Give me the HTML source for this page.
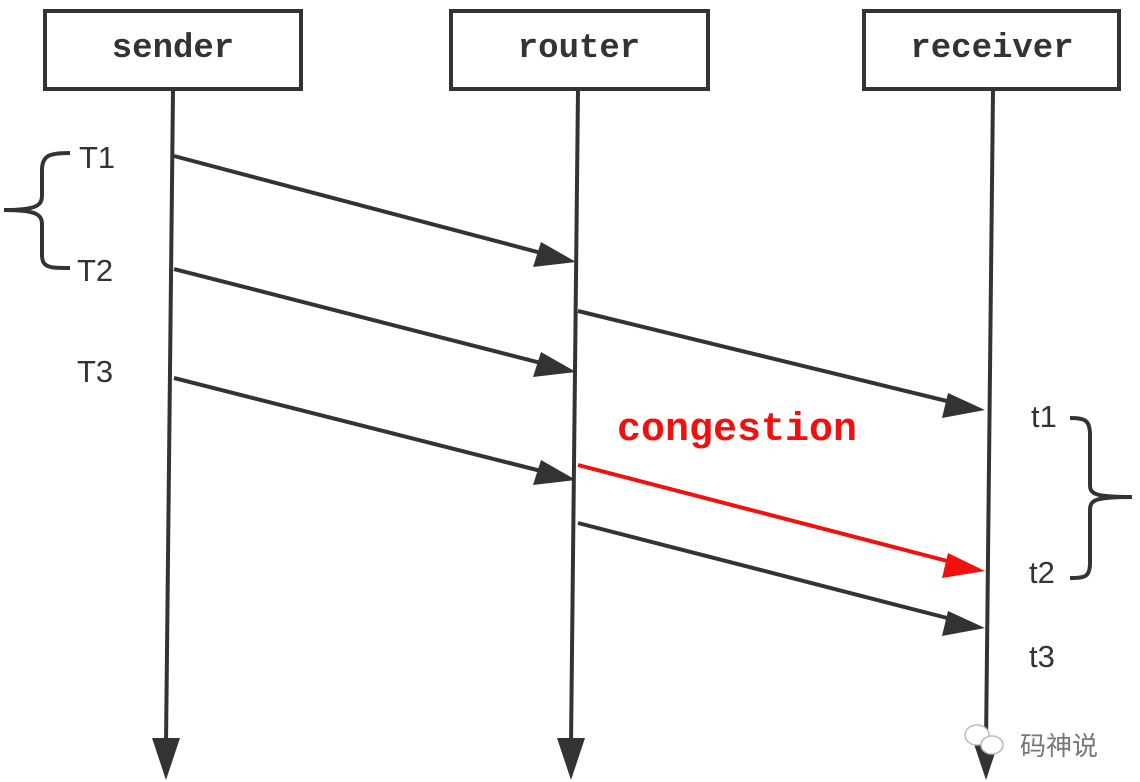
<!DOCTYPE html>
<html><head><style>
body{margin:0;background:#fff;}
svg{display:block}
</style></head><body>
<svg width="1140" height="782" viewBox="0 0 1140 782" xmlns="http://www.w3.org/2000/svg">
<g fill="#fff" stroke="#333" stroke-width="4">
<rect x="45" y="11" width="256" height="78"/>
<rect x="451" y="11" width="257" height="78"/>
<rect x="864" y="11" width="255" height="78"/>
</g>
<g font-family="Liberation Mono, monospace" font-weight="bold" font-size="34" fill="#333" text-anchor="middle">
<text x="173" y="57">sender</text>
<text x="579" y="57">router</text>
<text x="992" y="57">receiver</text>
</g>
<g stroke="#333" stroke-width="4" fill="none">
<line x1="173" y1="90" x2="166" y2="745"/>
<line x1="578" y1="90" x2="571" y2="745"/>
<line x1="993" y1="90" x2="986" y2="745"/>
<line x1="174" y1="156" x2="545" y2="254"/>
<line x1="174" y1="269" x2="545" y2="364"/>
<line x1="174" y1="378" x2="545" y2="472"/>
<line x1="578" y1="311" x2="955" y2="403"/>
<line x1="578" y1="523" x2="955" y2="620"/>
<path d="M70 153 C50 153 42 155 42 170 L42 195 C42 205 38 210 4 210 C38 210 42 215 42 225 L42 255 C42 268 50 268 70 268"/>
<path d="M1070 418 C1085 418 1090 420 1090 435 L1090 485 C1090 494 1095 497 1132 497 C1095 497 1090 500 1090 510 L1090 563 C1090 577 1085 578 1070 578"/>
</g>
<line x1="578" y1="465" x2="955" y2="563" stroke="#f01010" stroke-width="4"/>
<g fill="#333">
<polygon points="576,262 533,267 541,242"/>
<polygon points="576,372 533,377 541,352"/>
<polygon points="576,480 533,485 541,460"/>
<polygon points="985,410 942,418 948,393"/>
<polygon points="985,628 942,636 948,611"/>
<polygon points="166,780 152,738 180,738"/>
<polygon points="571,780 557,738 585,738"/>
<polygon points="986,780 972,738 1000,738"/>
</g>
<polygon points="985,571 942,578 948,553" fill="#f01010"/>
<g font-family="Liberation Sans, sans-serif" font-size="31" fill="#333">
<text x="79" y="168">T1</text>
<text x="77" y="281">T2</text>
<text x="77" y="382">T3</text>
<text x="1031" y="427">t1</text>
<text x="1029" y="583">t2</text>
<text x="1029" y="667">t3</text>
</g>
<text x="617" y="440" font-family="Liberation Mono, monospace" font-weight="bold" font-size="40" fill="#f01010">congestion</text>
<g fill="#fff" stroke="#bbb" stroke-width="1.5">
<ellipse cx="977" cy="735" rx="12" ry="10"/>
<ellipse cx="992" cy="745" rx="11" ry="9"/>
</g>
<text x="1020" y="755" font-family="Liberation Sans, 'Noto Sans CJK SC', sans-serif" font-size="26" fill="#777">码神说</text>
</svg>
</body></html>
